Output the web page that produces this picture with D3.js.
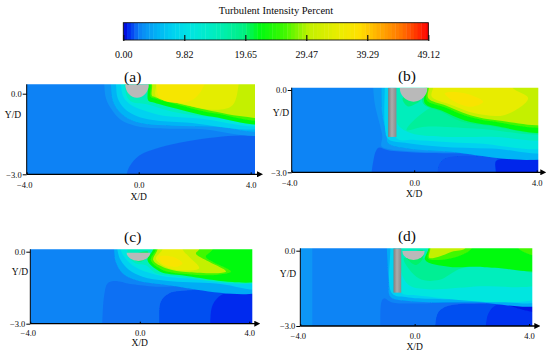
<!DOCTYPE html>
<html>
<head>
<meta charset="utf-8">
<script src="https://cdn.jsdelivr.net/npm/d3@7"></script>
<style>
    html, body { margin: 0; padding: 0; background: #fff; }
    text { font-family: "Liberation Serif", serif; fill: #0a0a0a; }
</style>
</head>
<body>
<div id="chart"></div>
<script>
// Colour bar: intensity value -> colour
const barStops = [0, 1, 2, 2.5, 3.6, 5.5, 8, 11, 15, 19.5, 22, 26, 30, 35, 38, 41, 45, 49.12];
const barColors = ["#0000d8", "#0030f0", "#0a64f2", "#0a80f5", "#0a96f5", "#00b4f5", "#00d2f0", "#00e6e0", "#00eebc", "#00f080", "#00fa10", "#40f800", "#c4f000", "#ecec00", "#ffe000", "#ffb000", "#ff7000", "#ff0000"];
const barTicks = [0.00, 9.82, 19.65, 29.47, 39.29, 49.12];

const xTicks = [-4, 0, 4];
const yTicks = [0, -3];

// Filled contour bands per panel: [intensity, outline in X/D, Y/D], drawn back to front
const bandsA = [
    [2.6, [[-4.6, 0.9], [4.7, 0.9], [4.7, -3.6], [-4.6, -3.6]]],
    [2.0, [[-0.5, -3.6], [-0.43, -3], [-0.33, -2.71], [0.02, -2.3], [0.74, -2], [1.69, -1.78], [2.76, -1.62], [3.6, -1.56], [4.7, -1.56], [4.7, -3.6]]],
    [3.6, [[-1.25, 0.9], [-1.23, 0.35], [-1.17, -0.17], [-0.99, -0.55], [-0.63, -0.98], [-0.1, -1.2], [0.62, -1.29], [2.17, -1.31], [4.7, -1.41], [4.7, 0.9]]],
    [5.5, [[-1.0, 0.9], [-0.99, 0.35], [-0.93, -0.24], [-0.69, -0.67], [-0.27, -0.98], [0.26, -1.13], [1.21, -1.19], [2.76, -1.23], [4.7, -1.29], [4.7, 0.9]]],
    [8, [[-0.82, 0.9], [-0.81, 0.35], [-0.75, -0.17], [-0.51, -0.55], [-0.1, -0.82], [0.5, -0.98], [1.69, -1.07], [4.7, -1.14], [4.7, 0.9]]],
    [11, [[-0.65, 0.9], [-0.63, 0.35], [-0.55, -0.11], [-0.27, -0.42], [0.14, -0.61], [0.74, -0.79], [2.17, -0.92], [4.7, -1.07], [4.7, 0.9]]],
    [15, [[-0.53, 0.9], [-0.51, 0.35], [-0.39, -0.17], [-0.21, -0.32], [0.32, -0.4], [1.21, -0.67], [2.64, -0.88], [4.7, -1.04], [4.7, 0.9]]],
    [22, [[0.34, 0.9], [0.34, 0.3], [0.34, -0.25], [0.5, -0.32], [1.21, -0.52], [2.64, -0.86], [4.7, -1.03], [4.7, 0.9]]],
    [26, [[0.43, 0.9], [0.43, 0.3], [0.43, -0.12], [0.55, -0.17], [1.33, -0.39], [2.76, -0.74], [4.7, -0.9], [4.7, 0.9]]],
    [30, [[0.48, 0.9], [0.48, 0.3], [0.48, -0.09], [0.62, -0.14], [1.45, -0.37], [2.76, -0.67], [3.6, -0.83], [4.7, -0.81], [4.7, 0.9]]],
    [34, [[0.62, 0.9], [0.62, 0.3], [0.62, -0.1], [1.57, -0.38], [2.76, -0.6], [3.36, -0.42], [3.6, 0.5], [3.7, 0.9]]],
    [36.5, [[0.8, 0.8], [0.74, -0.14], [1.69, -0.32], [2.17, 0.01], [2.4, 0.8]]]
];
const bandsB = [
    [2.7, [[-4.6, 0.7], [4.7, 0.7], [4.7, -3.6], [-4.6, -3.6]]],
    [2.0, [[-1.4, -3.6], [-1.39, -3], [-1.33, -2.55], [-1.25, -2.22], [-1.15, -2.1], [-0.85, -2.2], [0.02, -2.28], [1.54, -2.31], [4.7, -2.34], [4.7, -3.6]]],
    [1.7, [[0.76, -3.6], [0.76, -3], [0.82, -2.7], [1.0, -2.5], [1.6, -2.4], [2.8, -2.45], [4.7, -2.45], [4.7, -3.6]]],
    [0.8, [[2.67, -3.6], [2.67, -3], [2.67, -2.6], [3.0, -2.5], [4.7, -2.5], [4.7, -3.6]]],
    [3.6, [[-1.36, 0.7], [-1.34, 0.1], [-1.28, -0.55], [-1.12, -1.27], [-1.04, -1.7], [-1.07, -2.05], [-0.85, -2.15], [0.02, -2.24], [1.54, -2.27], [4.7, -2.3], [4.7, 0.7]]],
    [5.5, [[-1.07, 0.7], [-1.07, 0.1], [-1.04, -0.91], [-0.9, -1.64], [-0.85, -1.94], [-0.2, -2.13], [0.89, -2.22], [4.7, -2.27], [4.7, 0.7]]],
    [8, [[-0.96, 0.7], [-0.96, 0.1], [-0.96, -1.28], [-0.85, -1.79], [-0.2, -1.94], [0.89, -2.07], [2.52, -2.13], [4.7, -2.13], [4.7, 0.7]]],
    [11, [[-0.57, 0.7], [-0.57, 0.1], [-0.57, -1.76], [0.02, -1.82], [1.98, -1.94], [4.7, -1.94], [4.7, 0.7]]],
    [15, [[-0.57, 0.7], [-0.57, 0.1], [-0.57, -0.67], [-0.52, -1.28], [-0.09, -1.58], [0.89, -1.7], [2.52, -1.7], [4.7, -1.66], [4.7, 0.7]]],
    [17.5, [[-0.25, -1.46], [0.35, -1.34], [1.98, -1.4], [4.7, -1.49], [4.7, -0.5], [0.8, -0.5]]],
    [19.5, [[-0.38, -0.3], [-0.2, -0.6], [0.02, -0.52], [0.2, -0.38], [0.2, 0]]],
    [19.5, [[0.32, 0.7], [0.32, 0.1], [0.29, -0.49], [0.89, -0.79], [1.54, -1.15], [2.41, -1.3], [4.7, -1.46], [4.7, 0.7]]],
    [22, [[0.37, 0.7], [0.37, 0.1], [0.35, -0.49], [0.89, -0.75], [1.65, -1.11], [2.41, -1.27], [4.7, -1.42], [4.7, 0.7]]],
    [26, [[0.44, 0.7], [0.44, 0.1], [0.41, -0.37], [1, -0.63], [1.65, -0.93], [2.52, -1.14], [4.7, -1.22], [4.7, 0.7]]],
    [30, [[0.48, 0.7], [0.48, 0.1], [0.46, -0.3], [1.05, -0.57], [1.76, -0.89], [2.63, -1.09], [4.7, -1.13], [4.7, 0.7]]],
    [34.5, [[0.62, 0.7], [0.62, 0.1], [0.57, -0.24], [1.22, -0.55], [1.98, -0.85], [2.96, -0.91], [3.72, -0.3], [3.2, 0.1], [3.1, 0.7]]],
    [37, [[1, -0.12], [1.22, -0.36], [1.87, -0.61], [2.25, -0.43], [1.65, -0.12]]]
];
const bandsC = [
    [2.7, [[-4.6, 0.7], [4.7, 0.7], [4.7, -3.6], [-4.6, -3.6]]],
    [2.2, [[-1.37, -3.6], [-1.37, -3], [-1.3, -1.81], [-1.18, -1.32], [-0.94, -1.22], [-0.27, -1.36], [0.59, -1.46], [4.7, -1.57], [4.7, -3.6]]],
    [1.6, [[0.71, -3.6], [0.71, -3], [0.77, -2.08], [1.07, -1.74], [1.8, -1.61], [4.7, -1.6], [4.7, -3.6]]],
    [0.9, [[2.57, -3.6], [2.57, -3], [2.66, -2.22], [2.96, -1.81], [3.39, -1.71], [4.7, -1.71], [4.7, -3.6]]],
    [5, [[-0.95, 0.7], [-0.94, 0.1], [-0.88, -0.42], [-0.63, -0.9], [-0.15, -1.18], [0.71, -1.35], [4.7, -1.53], [4.7, 0.7]]],
    [8, [[-0.83, 0.7], [-0.82, 0.1], [-0.7, -0.35], [-0.39, -0.76], [0.1, -1.04], [0.95, -1.21], [2.78, -1.32], [4.7, -1.46], [4.7, 0.7]]],
    [11, [[-0.72, 0.7], [-0.7, 0.1], [-0.57, -0.21], [-0.27, -0.56], [0.28, -0.86], [0.95, -1.04], [2.78, -1.14], [4.7, -1.18], [4.7, 0.7]]],
    [15, [[-0.45, 0.7], [-0.45, 0.1], [-0.45, -0.14], [-0.15, -0.49], [0.22, -0.56], [0.59, -0.9], [1.2, -1.01], [4.7, -1.11], [4.7, 0.7]]],
    [20, [[-0.33, -0.2], [-0.02, -0.42], [0.22, -0.28], [0.3, 0]]],
    [22, [[0.5, 0.7], [0.49, 0.1], [0.28, -0.35], [0.71, -0.81], [1.44, -0.97], [4.7, -1.08], [4.7, 0.7]]],
    [26, [[0.6, 0.7], [0.59, 0.1], [0.4, -0.35], [0.83, -0.76], [1.68, -0.93], [2.78, -0.97], [3.33, -0.83], [2.66, -0.42], [2.41, -0.21], [2.66, 0.1], [2.7, 0.7]]],
    [30, [[0.66, 0.7], [0.65, 0.1], [0.49, -0.35], [0.95, -0.69], [1.8, -0.86], [3.15, -0.83], [2.41, -0.35], [2.05, -0.07], [2.17, 0.1], [2.2, 0.7]]],
    [34.5, [[0.84, 0.7], [0.83, 0.1], [0.59, -0.28], [0.83, -0.56], [1.32, -0.76], [2.17, -0.69], [1.8, -0.21], [1.56, 0.1], [1.56, 0.7]]],
    [37, [[0.71, -0.21], [0.83, -0.49], [1.32, -0.63], [1.56, -0.49], [1.2, -0.21]]]
];
const bandsD = [
    [2.7, [[-4.6, 0.7], [4.7, 0.7], [4.7, -3.6], [-4.6, -3.6]]],
    [3.6, [[-4.6, 0.7], [-3.58, 0.7], [-3.58, 0.1], [-3.58, -3], [-3.58, -3.6], [-4.6, -3.6]]],
    [2.2, [[-1.2, -3.6], [-1.2, -3], [-1.16, -2.03], [-1.08, -1.9], [-0.79, -2.06], [0.37, -2.1], [4.7, -2.06], [4.7, -3.6]]],
    [1.6, [[0.72, -3.6], [0.72, -3], [0.84, -2.43], [1.19, -2.19], [2.47, -2.1], [4.7, -2.1], [4.7, -3.6]]],
    [1.0, [[2.49, -3.6], [2.49, -3], [2.58, -2.5], [2.81, -2.19], [3.28, -2.14], [4.7, -2.1], [4.7, -3.6]]],
    [0.5, [[3.28, -2.14], [4.7, -2.46], [4.7, -1.97]]],
    [5, [[-0.97, 0.7], [-0.97, 0.1], [-0.91, -1.23], [-0.85, -1.83], [-0.21, -2], [2.12, -2.06], [4.7, -2], [4.7, 0.7]]],
    [8, [[-0.85, 0.7], [-0.85, 0.1], [-0.79, -1.7], [-0.21, -1.86], [2.12, -1.93], [4.7, -1.87], [4.7, 0.7]]],
    [11, [[-0.47, 0.7], [-0.47, 0.1], [-0.47, -1.67], [0.02, -1.77], [4.7, -1.7], [4.7, 0.7]]],
    [15, [[-0.47, 0.7], [-0.47, 0.1], [-0.47, -0.84], [-0.21, -1.37], [0.37, -1.53], [2.12, -1.43], [4.7, -1.17], [4.7, 0.7]]],
    [18, [[-0.38, -0.31], [0.14, -1.1], [0.84, -1.17], [1.65, -0.7], [3.05, -0.64], [4.7, -0.84], [4.7, 0.7], [0.49, 0.7], [0.49, 0.1], [0.32, -0.3]]],
    [20, [[-0.3, -0.2], [0.02, -0.57], [0.26, -0.37], [0.3, 0]]],
    [22, [[0.49, 0.7], [0.49, 0.1], [0.37, -0.37], [1.19, -0.64], [2.12, -0.64], [2.81, -0.68], [4.7, -0.7], [4.7, 0.7]]],
    [26, [[0.51, 0.7], [0.51, 0.1], [0.47, -0.31], [0.84, -0.37], [1.48, -0.24], [2, 0.1], [2.1, 0.7]]],
    [26, [[3.63, 0.5], [3.63, 0.1], [4.5, -0.2], [4.6, 0.5]]],
    [30, [[0.55, 0.7], [0.55, 0.1], [0.51, -0.28], [0.84, -0.24], [1.3, -0.04], [1.77, 0.1], [1.8, 0.7]]]
];

// Solid bodies in X/D, Y/D: cylinder [x, y, radius x, radius y], plate [left, right, bottom]
const cylA = [-0.06, 0.35, 0.42, 0.5];
const cylB = [-0.02, 0.085, 0.45, 0.51];
const cylC = [-0.05, -0.04, 0.43, 0.35];
const cylD = [-0.04, -0.01, 0.39, 0.36];
const plateB = [-0.85, -0.58, -1.71];
const plateD = [-0.74, -0.47, -1.67];

const w = 550, h = 355;

// Panel frames in pixels
const panels = [
    { id: "(a)", bands: bandsA, cyl: cylA, plate: null, x0: 26.7, x1: 250.7, xEnd: 255, y0: 93.7, y1: 174.3, yEnd: 84.3, letter: [132.7, 77], ylab: [13, 115], xlab: 197, tick: 185 },
    { id: "(b)", bands: bandsB, cyl: cylB, plate: plateB, x0: 291.7, x1: 536.7, xEnd: 538.3, y0: 90, y1: 172.3, yEnd: 87.7, letter: [407, 76], ylab: [281, 113], xlab: 194, tick: 182.7 },
    { id: "(c)", bands: bandsC, cyl: cylC, plate: null, x0: 30.3, x1: 249.3, xEnd: 252.3, y0: 251.7, y1: 323.7, yEnd: 249.3, letter: [132.7, 237], ylab: [20, 272], xlab: 343, tick: 333 },
    { id: "(d)", bands: bandsD, cyl: cylD, plate: plateD, x0: 300.3, x1: 529, xEnd: 532.3, y0: 250.7, y1: 326, yEnd: 248.3, letter: [407, 236], ylab: [288, 274], xlab: 346.7, tick: 335.7 }
];

const color = d3.scaleLinear().domain(barStops).range(barColors);

const svg = d3.select("#chart").append("svg")
    .attr("width", w)
    .attr("height", h)
    .style("display", "block");

const defs = svg.append("defs");

const soft = defs.append("filter").attr("id", "soft")
    .attr("x", "-2%").attr("y", "-2%").attr("width", "104%").attr("height", "104%");
soft.append("feGaussianBlur").attr("stdDeviation", 0.5);

const plateFill = defs.append("linearGradient").attr("id", "plateFill");
plateFill.append("stop").attr("offset", "0%").attr("stop-color", "#7f7f7f");
plateFill.append("stop").attr("offset", "45%").attr("stop-color", "#ababab");
plateFill.append("stop").attr("offset", "100%").attr("stop-color", "#8a8a8a");

const arrow = defs.append("marker").attr("id", "arrow")
    .attr("viewBox", "0 0 6 6").attr("refX", 1).attr("refY", 3)
    .attr("markerWidth", 6).attr("markerHeight", 6).attr("orient", "auto")
    .attr("markerUnits", "userSpaceOnUse");
arrow.append("path").attr("d", "M0,0L6,3L0,6Z").attr("fill", "#000");

// Colour bar
const barX = d3.scaleLinear().domain([0, 49.12]).range([123.3, 428.3]);
const barTop = 22.7, barH = 17.3;
const steps = d3.range(0, 49.12, 0.6);

svg.append("text")
    .attr("x", 276).attr("y", 14)
    .attr("text-anchor", "middle")
    .attr("font-size", 10.5)
    .text("Turbulent Intensity Percent");

svg.append("g").selectAll("rect")
    .data(steps)
    .join("rect")
        .attr("x", d => barX(d))
        .attr("y", barTop)
        .attr("width", d => barX(Math.min(d + 0.6, 49.12)) - barX(d) + 0.4)
        .attr("height", barH)
        .attr("fill", d => color(d + 0.3));

svg.append("rect")
    .attr("x", barX(0)).attr("y", barTop)
    .attr("width", barX(49.12) - barX(0)).attr("height", barH)
    .attr("fill", "none").attr("stroke", "#111").attr("stroke-width", 0.9);

const barAxis = svg.append("g")
    .attr("transform", `translate(0, ${barTop + barH + 1})`)
    .call(d3.axisTop(barX).tickValues(barTicks).tickFormat(d3.format(".2f")).tickSize(6));
barAxis.select(".domain").remove();
barAxis.selectAll("line").attr("stroke", "#111").attr("stroke-width", 1.2);
barAxis.selectAll("text")
    .attr("transform", "translate(0, 17)")
    .attr("dy", 0)
    .attr("y", 0)
    .attr("font-size", 10);
barAxis.attr("font-family", null);

// One panel per frame
panels.forEach((p, i) => {
    const x = d3.scaleLinear().domain([-4, 4]).range([p.x0, p.x1]);
    const y = d3.scaleLinear().domain([0, -3]).range([p.y0, p.y1]);
    const outline = d3.line().x(d => x(d[0])).y(d => y(d[1])).curve(d3.curveCatmullRomClosed.alpha(0.5));

    defs.append("clipPath").attr("id", `frame${i}`)
        .append("rect")
            .attr("x", p.x0).attr("y", p.yEnd)
            .attr("width", p.xEnd - p.x0).attr("height", p.y1 - p.yEnd);

    const field = svg.append("g").attr("clip-path", `url(#frame${i})`)
        .append("g").attr("filter", "url(#soft)");

    field.selectAll("path.band")
        .data(p.bands)
        .join("path")
            .attr("class", "band")
            .attr("d", d => outline(d[1]))
            .attr("fill", d => color(d[0]));

    // Bodies stay sharp, above the contours
    const bodies = svg.append("g").attr("clip-path", `url(#frame${i})`);
    if (p.plate) {
        bodies.append("rect")
            .attr("x", x(p.plate[0]))
            .attr("y", p.yEnd)
            .attr("width", x(p.plate[1]) - x(p.plate[0]))
            .attr("height", y(p.plate[2]) - p.yEnd)
            .attr("fill", "url(#plateFill)");
    }
    const rx = x(p.cyl[2]) - x(0), ry = y(0) - y(p.cyl[3]);
    bodies.append("path")
        .attr("d", `M${x(p.cyl[0]) - rx},${y(p.cyl[1])}A${rx},${ry} 0 0 0 ${x(p.cyl[0]) + rx},${y(p.cyl[1])}Z`)
        .attr("fill", "#b9b9b9");

    // Axes
    const xAxis = svg.append("g")
        .attr("transform", `translate(0, ${p.y1})`)
        .call(d3.axisBottom(x).tickValues(xTicks).tickFormat(d3.format(".1f")).tickSize(-2).tickSizeOuter(0));
    xAxis.select(".domain")
        .attr("d", `M${p.x0},0H${p.xEnd + 3}`)
        .attr("stroke", "#000").attr("stroke-width", 1.3)
        .attr("marker-end", "url(#arrow)");
    xAxis.selectAll("text")
        .attr("y", 0)
        .attr("dy", p.tick - p.y1 + 3)
        .attr("dx", d => d == -4 ? -2.5 : 0)
        .attr("font-size", 8.5);

    const yAxis = svg.append("g")
        .attr("transform", `translate(${p.x0}, 0)`)
        .call(d3.axisLeft(y).tickValues(yTicks).tickFormat(d3.format(".1f")).tickSize(4).tickSizeOuter(0));
    yAxis.select(".domain")
        .attr("d", `M0,${p.yEnd}V${p.y1}`)
        .attr("stroke", "#000").attr("stroke-width", 1);
    yAxis.selectAll("line").attr("stroke", "#000").attr("stroke-width", 1);
    yAxis.selectAll("text").attr("x", -5).attr("font-size", 8.5);

    xAxis.attr("font-family", null);
    yAxis.attr("font-family", null);

    svg.append("text")
        .attr("x", x(0)).attr("y", p.xlab + 3)
        .attr("text-anchor", "middle").attr("font-size", 9.5)
        .text("X/D");
    svg.append("text")
        .attr("x", p.ylab[0]).attr("y", p.ylab[1] + 3)
        .attr("text-anchor", "middle").attr("font-size", 9.5)
        .text("Y/D");
    svg.append("text")
        .attr("x", p.letter[0]).attr("y", p.letter[1] + 5)
        .attr("text-anchor", "middle").attr("font-size", 15.5)
        .text(p.id);
});
</script>
</body>
</html>
